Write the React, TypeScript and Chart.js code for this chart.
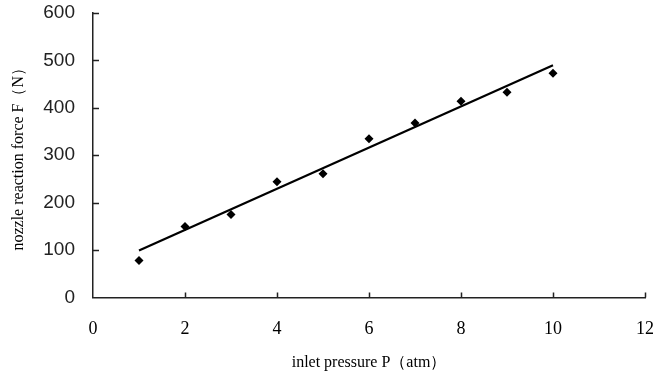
import React, { useEffect, useRef } from "react";
import { Chart, registerables } from "chart.js";

Chart.register(...registerables);

const pressures = [1, 2, 3, 4, 5, 6, 7, 8, 9, 10];
const forces = [78, 150, 175, 244, 261, 335, 368, 414, 433, 473];
const trendX = [1, 10];
const trendY = [99, 490];
const xTickStep = 2;
const yTickStep = 100;
const xTitle = "inlet pressure P（atm）";
const yTitle = "nozzle reaction force F（N）";

const inwardTicks = {
  id: "inwardTicks",
  afterDraw(chart: any) {
    const { ctx, chartArea, scales } = chart;
    ctx.save();
    ctx.strokeStyle = "#222";
    ctx.lineWidth = 1.5;
    ctx.beginPath();
    scales.x.ticks.forEach((t: any) => {
      if (t.value === scales.x.min) return;
      const px = Math.round(scales.x.getPixelForValue(t.value)) + 0.5;
      ctx.moveTo(px, chartArea.bottom);
      ctx.lineTo(px, chartArea.bottom - 5);
    });
    scales.y.ticks.forEach((t: any) => {
      if (t.value === scales.y.min) return;
      const py = Math.round(scales.y.getPixelForValue(t.value)) + 0.5;
      ctx.moveTo(chartArea.left, py);
      ctx.lineTo(chartArea.left + 6, py);
    });
    ctx.stroke();
    ctx.restore();
  },
};

export default function App() {
  const ref = useRef<HTMLCanvasElement>(null);
  useEffect(() => {
    if (!ref.current) return;
    const chart = new Chart(ref.current, {
      type: "scatter",
      data: {
        datasets: [
          {
            label: "trend",
            type: "line",
            data: trendX.map((x, i) => ({ x, y: trendY[i] })),
            borderColor: "#000",
            borderWidth: 2.2,
            pointRadius: 0,
            fill: false,
          },
          {
            label: "measured",
            data: pressures.map((x, i) => ({ x, y: forces[i] })),
            pointStyle: "rectRot",
            pointRadius: 4.5,
            backgroundColor: "#000",
            borderColor: "#000",
            borderWidth: 0,
          },
        ],
      },
      options: {
        responsive: false,
        animation: false,
        layout: { padding: { top: 13, right: 11, left: 0, bottom: 0 } },
        plugins: { legend: { display: false }, tooltip: { enabled: false } },
        scales: {
          x: {
            type: "linear",
            min: 0,
            max: 12,
            afterFit: (s: any) => {
              s.height = 82.5;
              s.paddingLeft = 0;
              s.paddingRight = 0;
            },
            ticks: {
              stepSize: xTickStep,
              padding: 21,
              color: "#000",
              font: { family: "'Liberation Serif', serif", size: 18 },
            },
            grid: { display: false, drawTicks: false },
            border: { display: true, color: "#222", width: 1.5 },
            title: {
              display: true,
              text: xTitle,
              color: "#000",
              font: { family: "'Liberation Serif', serif", size: 16 },
              padding: { top: 0, bottom: 8 },
            },
          },
          y: {
            type: "linear",
            min: 0,
            max: 600,
            afterFit: (s: any) => {
              s.width = 93;
              s.paddingTop = 0;
              s.paddingBottom = 0;
            },
            ticks: {
              stepSize: yTickStep,
              padding: 18,
              color: "#222",
              font: { family: "'Liberation Sans', sans-serif", size: 19 },
            },
            grid: { display: false, drawTicks: false },
            border: { display: true, color: "#222", width: 1.5 },
            title: {
              display: true,
              text: yTitle,
              color: "#000",
              font: { family: "'Liberation Serif', serif", size: 16 },
              padding: { top: 9, bottom: 0 },
            },
          },
        },
      },
      plugins: [inwardTicks],
    });
    return () => chart.destroy();
  }, []);
  return (
    <div style={{ position: "absolute", left: 0, top: 0, width: 656, height: 380, background: "#fff" }}>
      <canvas ref={ref} width={656} height={380} />
    </div>
  );
}
